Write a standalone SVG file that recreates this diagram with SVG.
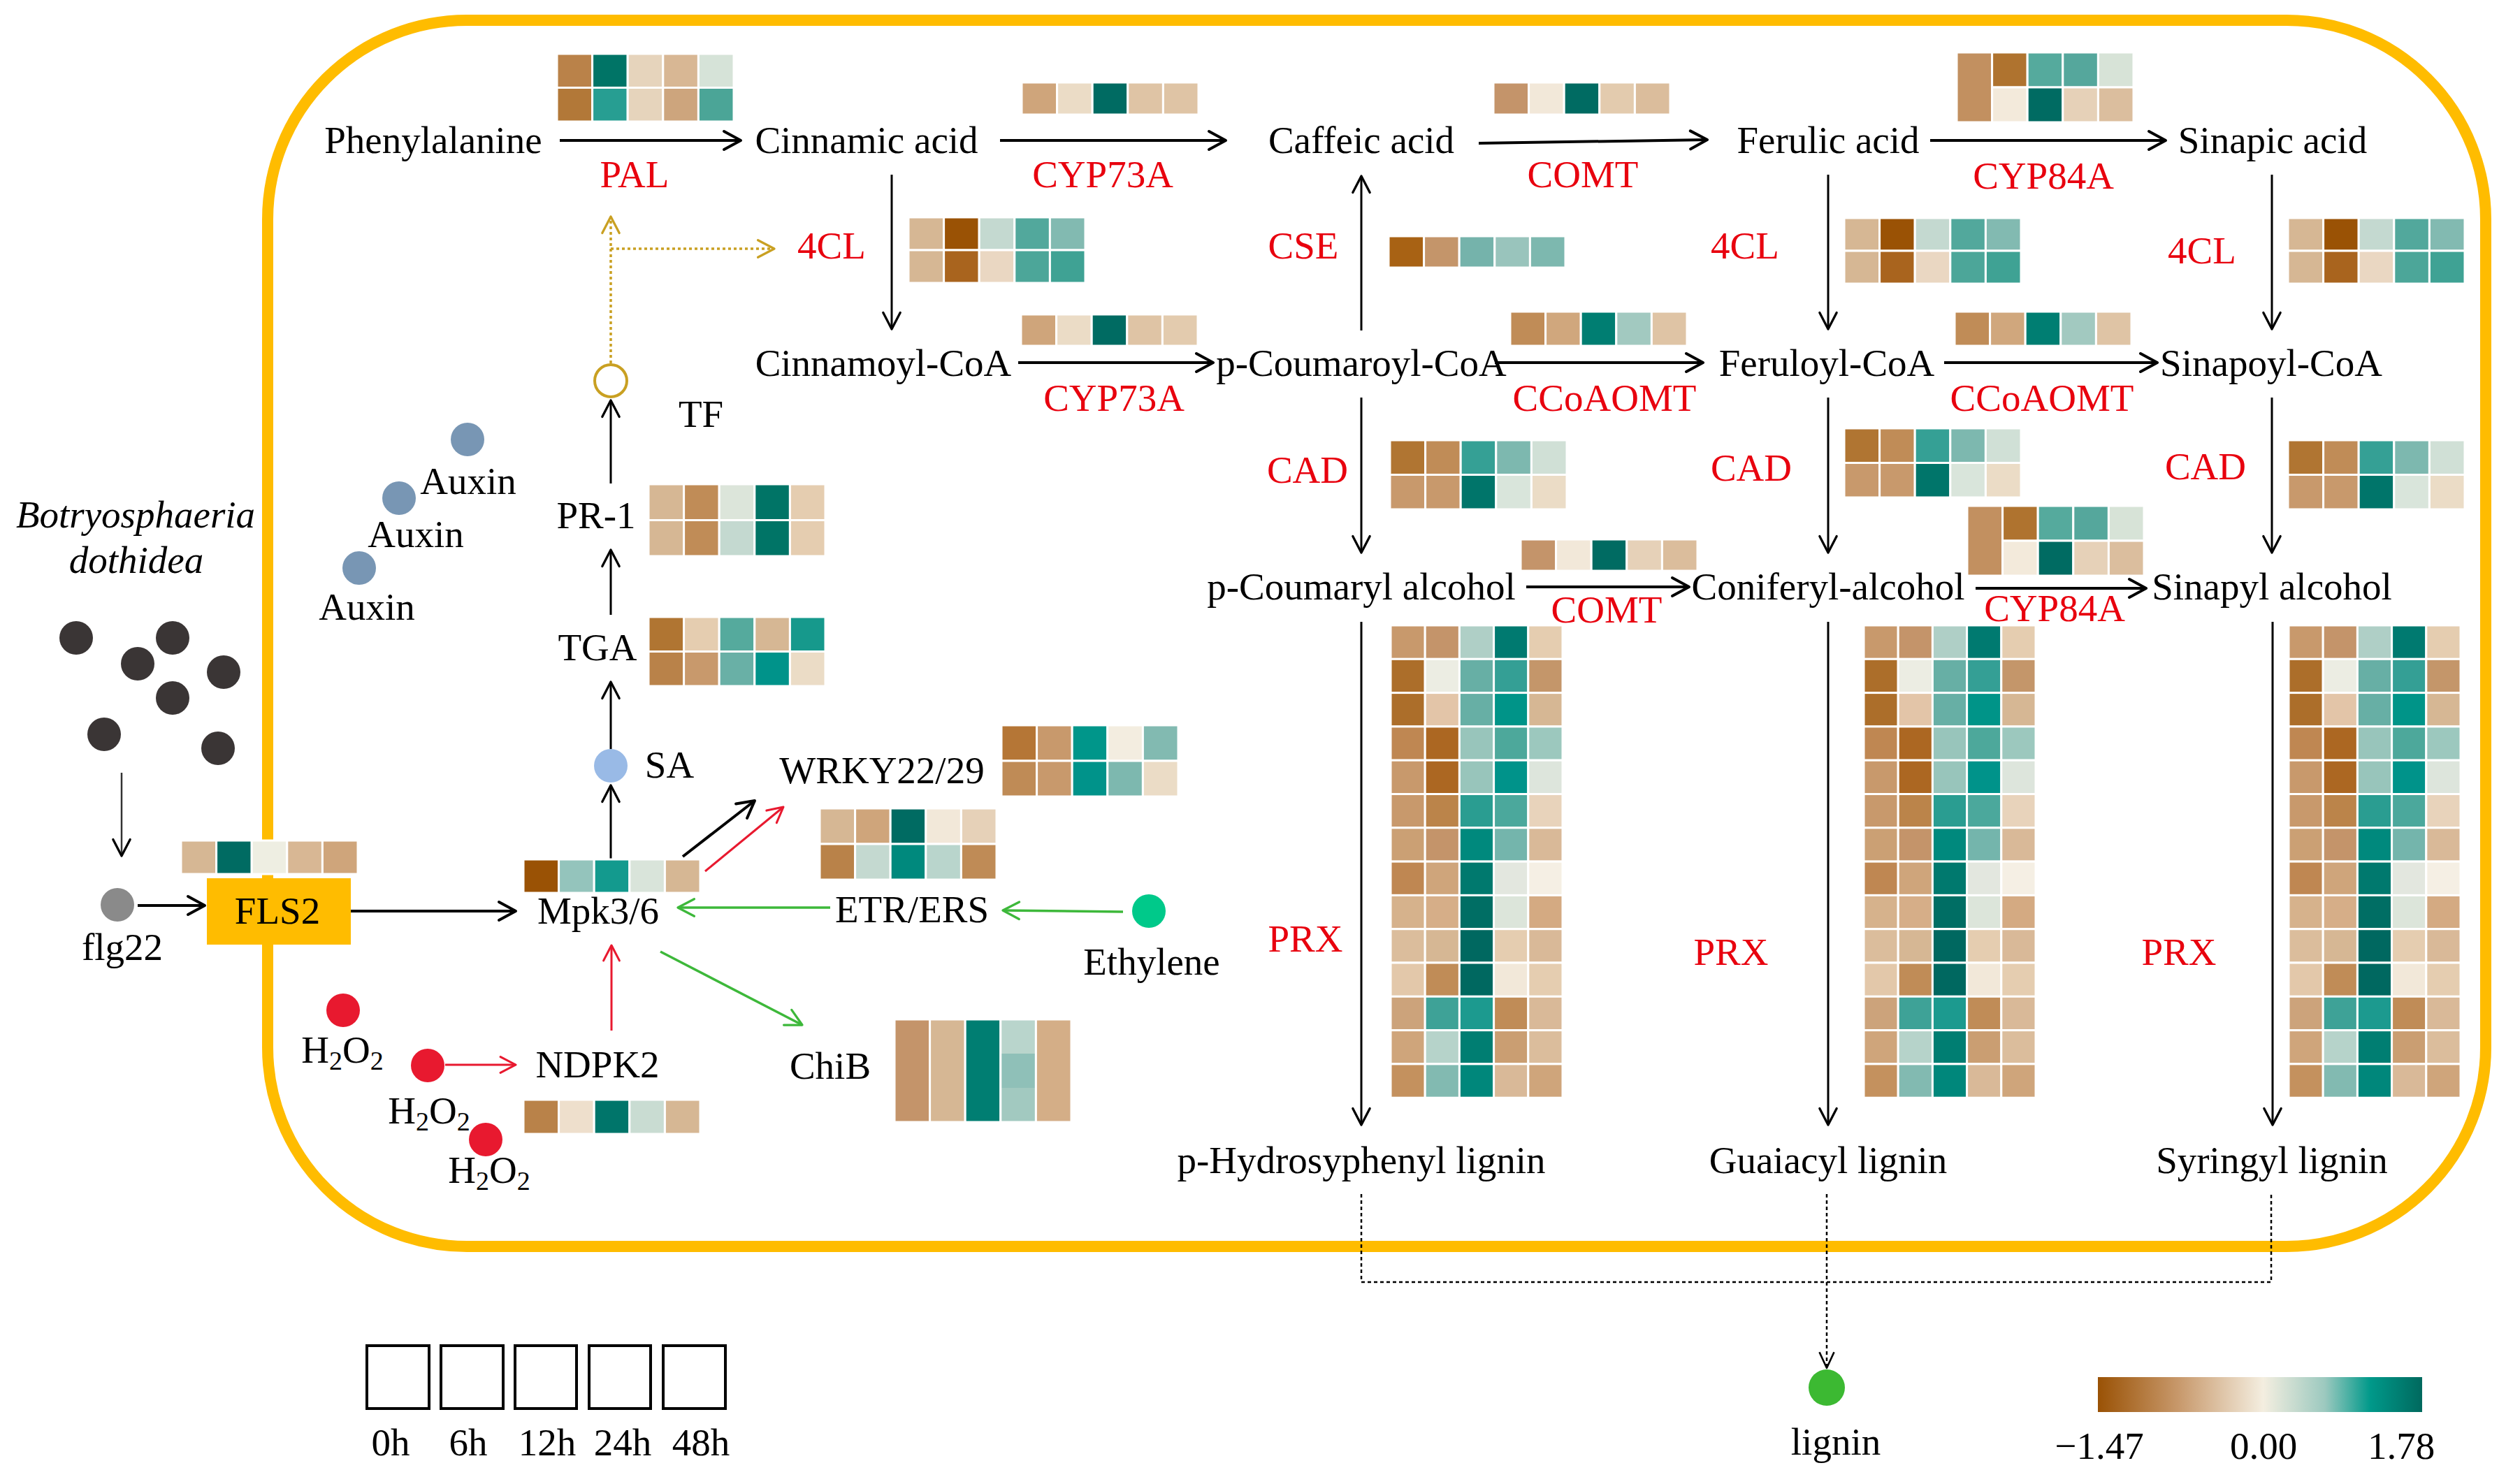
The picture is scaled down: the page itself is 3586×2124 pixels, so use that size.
<svg xmlns="http://www.w3.org/2000/svg" xmlns:xlink="http://www.w3.org/1999/xlink" width="3586" height="2124" viewBox="0 0 3586 2124">
<style>
.t{font-family:"Liberation Serif","Times New Roman",serif;font-size:55px;fill:#000;text-anchor:middle}
.r{fill:#E8000E}
.i{font-style:italic}
.hm rect{stroke:#fff;stroke-width:3}
.hm rect.ns{stroke:none}
.ln{stroke:#000;stroke-width:4;fill:none}
.lt{stroke:#000;stroke-width:3;fill:none}
.lr{stroke:#E8192F;stroke-width:3;fill:none}
.lg{stroke:#3DB83A;stroke-width:3.5;fill:none}
.ly{stroke:#C9A022;stroke-width:3.5;fill:none;stroke-dasharray:4 4}
.ld{stroke:#000;stroke-width:2.5;fill:none;stroke-dasharray:5 4}
.box{fill:none;stroke:#000;stroke-width:4}
</style>
<defs>
<marker id="mk" viewBox="0 0 32 32" refX="29" refY="16" markerWidth="32" markerHeight="32" markerUnits="userSpaceOnUse" orient="auto"><path d="M5,3 L29,16 L5,29" fill="none" stroke="#000" stroke-width="4" stroke-linecap="round" stroke-linejoin="round"/></marker>
<marker id="mkt" viewBox="0 0 32 32" refX="29" refY="16" markerWidth="30" markerHeight="30" markerUnits="userSpaceOnUse" orient="auto"><path d="M4,3 L29,16 L4,29" fill="none" stroke="#000" stroke-width="3.5" stroke-linecap="round" stroke-linejoin="round"/></marker>
<marker id="mkr" viewBox="0 0 32 32" refX="29" refY="16" markerWidth="28" markerHeight="28" markerUnits="userSpaceOnUse" orient="auto"><path d="M4,3 L29,16 L4,29" fill="none" stroke="#E8192F" stroke-width="3.5" stroke-linecap="round" stroke-linejoin="round"/></marker>
<marker id="mkg" viewBox="0 0 32 32" refX="29" refY="16" markerWidth="30" markerHeight="30" markerUnits="userSpaceOnUse" orient="auto"><path d="M4,3 L29,16 L4,29" fill="none" stroke="#3DB83A" stroke-width="3.5" stroke-linecap="round" stroke-linejoin="round"/></marker>
<marker id="mky" viewBox="0 0 32 32" refX="29" refY="16" markerWidth="30" markerHeight="30" markerUnits="userSpaceOnUse" orient="auto"><path d="M4,3 L29,16 L4,29" fill="none" stroke="#C9A022" stroke-width="3.5" stroke-linecap="round" stroke-linejoin="round"/></marker>
<marker id="mkd" viewBox="0 0 32 32" refX="29" refY="16" markerWidth="28" markerHeight="28" markerUnits="userSpaceOnUse" orient="auto"><path d="M3,4 L29,16 L3,28" fill="none" stroke="#000" stroke-width="3" stroke-linejoin="round"/></marker>
<linearGradient id="cb" x1="0" y1="0" x2="1" y2="0">
<stop offset="0" stop-color="#9A5205"/>
<stop offset="0.25" stop-color="#C8996C"/>
<stop offset="0.51" stop-color="#F4EEE0"/>
<stop offset="0.7" stop-color="#9CC9BF"/>
<stop offset="0.84" stop-color="#00998A"/>
<stop offset="1" stop-color="#00695E"/>
</linearGradient>
<g id="prx" class="hm">
<rect x="0" y="0" width="49.2" height="48.3" fill="#C8996C"/><rect x="49.2" y="0" width="49.2" height="48.3" fill="#C4946A"/><rect x="98.4" y="0" width="49.2" height="48.3" fill="#AFCFC6"/><rect x="147.6" y="0" width="49.2" height="48.3" fill="#007A70"/><rect x="196.8" y="0" width="49.2" height="48.3" fill="#E5CDB0"/>
<rect x="0" y="48.3" width="49.2" height="48.3" fill="#AC6E2A"/><rect x="49.2" y="48.3" width="49.2" height="48.3" fill="#ECEDE3"/><rect x="98.4" y="48.3" width="49.2" height="48.3" fill="#67AFA5"/><rect x="147.6" y="48.3" width="49.2" height="48.3" fill="#349F95"/><rect x="196.8" y="48.3" width="49.2" height="48.3" fill="#C4966A"/>
<rect x="0" y="96.6" width="49.2" height="48.3" fill="#AC6E2A"/><rect x="49.2" y="96.6" width="49.2" height="48.3" fill="#E3C5A8"/><rect x="98.4" y="96.6" width="49.2" height="48.3" fill="#67AFA5"/><rect x="147.6" y="96.6" width="49.2" height="48.3" fill="#009488"/><rect x="196.8" y="96.6" width="49.2" height="48.3" fill="#D6B794"/>
<rect x="0" y="144.9" width="49.2" height="48.3" fill="#BF8752"/><rect x="49.2" y="144.9" width="49.2" height="48.3" fill="#AC6722"/><rect x="98.4" y="144.9" width="49.2" height="48.3" fill="#98C5BB"/><rect x="147.6" y="144.9" width="49.2" height="48.3" fill="#4DA89B"/><rect x="196.8" y="144.9" width="49.2" height="48.3" fill="#9CC8BE"/>
<rect x="0" y="193.2" width="49.2" height="48.3" fill="#C8996C"/><rect x="49.2" y="193.2" width="49.2" height="48.3" fill="#AC6722"/><rect x="98.4" y="193.2" width="49.2" height="48.3" fill="#98C5BB"/><rect x="147.6" y="193.2" width="49.2" height="48.3" fill="#00938A"/><rect x="196.8" y="193.2" width="49.2" height="48.3" fill="#DDE5DC"/>
<rect x="0" y="241.5" width="49.2" height="48.3" fill="#C8996C"/><rect x="49.2" y="241.5" width="49.2" height="48.3" fill="#BB844A"/><rect x="98.4" y="241.5" width="49.2" height="48.3" fill="#2A9D91"/><rect x="147.6" y="241.5" width="49.2" height="48.3" fill="#4BA89C"/><rect x="196.8" y="241.5" width="49.2" height="48.3" fill="#E8D3BB"/>
<rect x="0" y="289.8" width="49.2" height="48.3" fill="#CBA074"/><rect x="49.2" y="289.8" width="49.2" height="48.3" fill="#C4946A"/><rect x="98.4" y="289.8" width="49.2" height="48.3" fill="#00897D"/><rect x="147.6" y="289.8" width="49.2" height="48.3" fill="#74B5AC"/><rect x="196.8" y="289.8" width="49.2" height="48.3" fill="#D9B998"/>
<rect x="0" y="338.1" width="49.2" height="48.3" fill="#BF8752"/><rect x="49.2" y="338.1" width="49.2" height="48.3" fill="#CFA57B"/><rect x="98.4" y="338.1" width="49.2" height="48.3" fill="#00796E"/><rect x="147.6" y="338.1" width="49.2" height="48.3" fill="#E3E7DF"/><rect x="196.8" y="338.1" width="49.2" height="48.3" fill="#F5EFE4"/>
<rect x="0" y="386.4" width="49.2" height="48.3" fill="#D6B28C"/><rect x="49.2" y="386.4" width="49.2" height="48.3" fill="#D6AE88"/><rect x="98.4" y="386.4" width="49.2" height="48.3" fill="#006E64"/><rect x="147.6" y="386.4" width="49.2" height="48.3" fill="#DCE5DA"/><rect x="196.8" y="386.4" width="49.2" height="48.3" fill="#D4AA82"/>
<rect x="0" y="434.7" width="49.2" height="48.3" fill="#DBBD9C"/><rect x="49.2" y="434.7" width="49.2" height="48.3" fill="#D6B794"/><rect x="98.4" y="434.7" width="49.2" height="48.3" fill="#006860"/><rect x="147.6" y="434.7" width="49.2" height="48.3" fill="#E5CDB0"/><rect x="196.8" y="434.7" width="49.2" height="48.3" fill="#D9B998"/>
<rect x="0" y="483" width="49.2" height="48.3" fill="#E3C8AA"/><rect x="49.2" y="483" width="49.2" height="48.3" fill="#C08C57"/><rect x="98.4" y="483" width="49.2" height="48.3" fill="#006860"/><rect x="147.6" y="483" width="49.2" height="48.3" fill="#F2E8D9"/><rect x="196.8" y="483" width="49.2" height="48.3" fill="#E5CDB0"/>
<rect x="0" y="531.3" width="49.2" height="48.3" fill="#CCA37B"/><rect x="49.2" y="531.3" width="49.2" height="48.3" fill="#3EA297"/><rect x="98.4" y="531.3" width="49.2" height="48.3" fill="#1C9A8F"/><rect x="147.6" y="531.3" width="49.2" height="48.3" fill="#C08C57"/><rect x="196.8" y="531.3" width="49.2" height="48.3" fill="#D9B998"/>
<rect x="0" y="579.6" width="49.2" height="48.3" fill="#CFA57B"/><rect x="49.2" y="579.6" width="49.2" height="48.3" fill="#B6D3CA"/><rect x="98.4" y="579.6" width="49.2" height="48.3" fill="#007E72"/><rect x="147.6" y="579.6" width="49.2" height="48.3" fill="#CA9E72"/><rect x="196.8" y="579.6" width="49.2" height="48.3" fill="#DBBD9C"/>
<rect x="0" y="627.9" width="49.2" height="48.3" fill="#C4915E"/><rect x="49.2" y="627.9" width="49.2" height="48.3" fill="#82BAB1"/><rect x="98.4" y="627.9" width="49.2" height="48.3" fill="#00877B"/><rect x="147.6" y="627.9" width="49.2" height="48.3" fill="#D9B998"/><rect x="196.8" y="627.9" width="49.2" height="48.3" fill="#CFA57B"/>
</g>
<g id="h4cl" class="hm">
<rect x="0" y="0" width="50.6" height="47" fill="#D6B794"/><rect x="50.6" y="0" width="50.6" height="47" fill="#9A5205"/><rect x="101.2" y="0" width="50.6" height="47" fill="#C4D9D0"/><rect x="151.8" y="0" width="50.6" height="47" fill="#52A89C"/><rect x="202.4" y="0" width="50.6" height="47" fill="#82BAB1"/>
<rect x="0" y="47" width="50.6" height="47" fill="#D6B794"/><rect x="50.6" y="47" width="50.6" height="47" fill="#A9641E"/><rect x="101.2" y="47" width="50.6" height="47" fill="#EAD7C2"/><rect x="151.8" y="47" width="50.6" height="47" fill="#4CA699"/><rect x="202.4" y="47" width="50.6" height="47" fill="#3FA294"/>
</g>
<g id="hcad" class="hm">
<rect x="0" y="0" width="50.6" height="49.5" fill="#B07532"/><rect x="50.6" y="0" width="50.6" height="49.5" fill="#C08C57"/><rect x="101.2" y="0" width="50.6" height="49.5" fill="#35A095"/><rect x="151.8" y="0" width="50.6" height="49.5" fill="#7DB8AF"/><rect x="202.4" y="0" width="50.6" height="49.5" fill="#D0E0D6"/>
<rect x="0" y="49.5" width="50.6" height="49.5" fill="#C8996C"/><rect x="50.6" y="49.5" width="50.6" height="49.5" fill="#C8996C"/><rect x="101.2" y="49.5" width="50.6" height="49.5" fill="#00756A"/><rect x="151.8" y="49.5" width="50.6" height="49.5" fill="#D9E5DB"/><rect x="202.4" y="49.5" width="50.6" height="49.5" fill="#EBDCC6"/>
</g>
<g id="hcyp84" class="hm">
<rect x="0" y="0" width="50.6" height="100" fill="#C29060"/>
<rect x="50.6" y="0" width="50.6" height="50" fill="#AF732F"/><rect x="101.2" y="0" width="50.6" height="50" fill="#55AA9D"/><rect x="151.8" y="0" width="50.6" height="50" fill="#55A79C"/><rect x="202.4" y="0" width="50.6" height="50" fill="#D7E3D7"/>
<rect x="50.6" y="50" width="50.6" height="50" fill="#F3EADB"/><rect x="101.2" y="50" width="50.6" height="50" fill="#006B62"/><rect x="151.8" y="50" width="50.6" height="50" fill="#E6D1B8"/><rect x="202.4" y="50" width="50.6" height="50" fill="#DBBE9E"/>
</g>
<g id="hccoa" class="hm">
<rect x="0" y="0" width="50.6" height="49" fill="#C08C57"/><rect x="50.6" y="0" width="50.6" height="49" fill="#D0A77D"/><rect x="101.2" y="0" width="50.6" height="49" fill="#007E72"/><rect x="151.8" y="0" width="50.6" height="49" fill="#A2C9C0"/><rect x="202.4" y="0" width="50.6" height="49" fill="#DFC4A5"/>
</g>
</defs>

<rect id="cell" x="383" y="29" width="3174" height="1755" rx="285" ry="285" fill="none" stroke="#FFBC00" stroke-width="16"/>

<g id="connectors">
<line class="ln" x1="801" y1="201" x2="1060" y2="201" marker-end="url(#mk)"/>
<line class="ln" x1="1431" y1="201" x2="1754" y2="201" marker-end="url(#mk)"/>
<line class="ln" x1="2116" y1="205" x2="2443" y2="200" marker-end="url(#mk)"/>
<line class="ln" x1="2762" y1="201" x2="3099" y2="201" marker-end="url(#mk)"/>
<line class="ln" x1="1457" y1="519" x2="1736" y2="519" marker-end="url(#mk)"/>
<line class="ln" x1="2139" y1="519" x2="2437" y2="519" marker-end="url(#mk)"/>
<line class="ln" x1="2782" y1="519" x2="3087" y2="519" marker-end="url(#mk)"/>
<line class="ln" x1="2184" y1="840" x2="2417" y2="840" marker-end="url(#mk)"/>
<line class="ln" x1="2827" y1="842" x2="3071" y2="842" marker-end="url(#mk)"/>
<line class="lt" x1="1276" y1="250" x2="1276" y2="471" marker-end="url(#mkt)"/>
<line class="lt" x1="1948" y1="473" x2="1948" y2="252" marker-end="url(#mkt)"/>
<line class="lt" x1="2616" y1="250" x2="2616" y2="471" marker-end="url(#mkt)"/>
<line class="lt" x1="3251" y1="250" x2="3251" y2="471" marker-end="url(#mkt)"/>
<line class="lt" x1="1948" y1="569" x2="1948" y2="791" marker-end="url(#mkt)"/>
<line class="lt" x1="2616" y1="569" x2="2616" y2="791" marker-end="url(#mkt)"/>
<line class="lt" x1="3251" y1="569" x2="3251" y2="791" marker-end="url(#mkt)"/>
<line class="lt" x1="1948" y1="890" x2="1948" y2="1610" marker-end="url(#mkt)"/>
<line class="lt" x1="2616" y1="890" x2="2616" y2="1610" marker-end="url(#mkt)"/>
<line class="lt" x1="3252" y1="890" x2="3252" y2="1610" marker-end="url(#mkt)"/>
<path class="ld" d="M1948,1709 V1835 H3250 V1709"/>
<line class="ld" x1="2614" y1="1709" x2="2614" y2="1958" marker-end="url(#mkd)"/>
<line class="ly" x1="874" y1="520" x2="874" y2="310" marker-end="url(#mky)"/>
<line class="ly" x1="874" y1="356" x2="1108" y2="356" marker-end="url(#mky)"/>
<line class="lt" x1="874" y1="692" x2="874" y2="573" marker-end="url(#mkt)"/>
<line class="lt" x1="874" y1="880" x2="874" y2="787" marker-end="url(#mkt)"/>
<line class="lt" x1="874" y1="1072" x2="874" y2="976" marker-end="url(#mkt)"/>
<line class="lt" x1="874" y1="1230" x2="874" y2="1124" marker-end="url(#mkt)"/>
<line x1="174" y1="1106" x2="174" y2="1225" stroke="#333" stroke-width="2.5" marker-end="url(#mkt)"/>
<line class="ln" x1="197" y1="1296" x2="293" y2="1296" marker-end="url(#mk)"/>
<line class="ln" x1="502" y1="1304" x2="738" y2="1304" marker-end="url(#mk)"/>
<line class="ln" x1="977" y1="1226" x2="1080" y2="1146" marker-end="url(#mk)"/>
<line class="lr" x1="1009" y1="1247" x2="1121" y2="1155" marker-end="url(#mkr)"/>
<line class="lg" x1="1188" y1="1299" x2="970" y2="1299" marker-end="url(#mkg)"/>
<line class="lg" x1="1607" y1="1305" x2="1435" y2="1303" marker-end="url(#mkg)"/>
<line class="lg" x1="945" y1="1362" x2="1148" y2="1467" marker-end="url(#mkg)"/>
<line class="lr" x1="875" y1="1475" x2="875" y2="1353" marker-end="url(#mkr)"/>
<line class="lr" x1="637" y1="1524" x2="738" y2="1524" stroke-width="4" marker-end="url(#mkr)"/>
</g>

<g id="heatmaps">
<g id="hm-pal" class="hm" transform="translate(797,77)">
<rect x="0" y="0" width="50.6" height="48.5" fill="#BA8249"/><rect x="50.6" y="0" width="50.6" height="48.5" fill="#007466"/><rect x="101.2" y="0" width="50.6" height="48.5" fill="#E6D4BC"/><rect x="151.8" y="0" width="50.6" height="48.5" fill="#D8B794"/><rect x="202.4" y="0" width="50.6" height="48.5" fill="#D6E3D8"/>
<rect x="0" y="48.5" width="50.6" height="48.5" fill="#B27838"/><rect x="50.6" y="48.5" width="50.6" height="48.5" fill="#279E92"/><rect x="101.2" y="48.5" width="50.6" height="48.5" fill="#E6D4BC"/><rect x="151.8" y="48.5" width="50.6" height="48.5" fill="#CDA57D"/><rect x="202.4" y="48.5" width="50.6" height="48.5" fill="#4BA597"/>
</g>
<g id="hm-cyp73a-1" class="hm" transform="translate(1462,118)">
<rect x="0" y="0" width="50.6" height="46" fill="#CFA57B"/><rect x="50.6" y="0" width="50.6" height="46" fill="#EBDCC6"/><rect x="101.2" y="0" width="50.6" height="46" fill="#006B62"/><rect x="151.8" y="0" width="50.6" height="46" fill="#DFC4A5"/><rect x="202.4" y="0" width="50.6" height="46" fill="#DFC4A5"/>
</g>
<g id="hm-comt-1" class="hm" transform="translate(2137,118)">
<rect x="0" y="0" width="50.6" height="46" fill="#C4946A"/><rect x="50.6" y="0" width="50.6" height="46" fill="#F2E8D9"/><rect x="101.2" y="0" width="50.6" height="46" fill="#006B62"/><rect x="151.8" y="0" width="50.6" height="46" fill="#E3CBAE"/><rect x="202.4" y="0" width="50.6" height="46" fill="#DBBD9C"/>
</g>
<use id="hm-cyp84a-1" xlink:href="#hcyp84" href="#hcyp84" transform="translate(2800,75)"/>
<use id="hm-4cl-1" xlink:href="#h4cl" href="#h4cl" transform="translate(1300,311)"/>
<use id="hm-4cl-2" xlink:href="#h4cl" href="#h4cl" transform="translate(2639,312)"/>
<use id="hm-4cl-3" xlink:href="#h4cl" href="#h4cl" transform="translate(3274,312)"/>
<g id="hm-cse" class="hm" transform="translate(1987,338)">
<rect x="0" y="0" width="50.6" height="45" fill="#A86214"/><rect x="50.6" y="0" width="50.6" height="45" fill="#C4956A"/><rect x="101.2" y="0" width="50.6" height="45" fill="#75B3AB"/><rect x="151.8" y="0" width="50.6" height="45" fill="#99C4BC"/><rect x="202.4" y="0" width="50.6" height="45" fill="#7DB8AF"/>
</g>
<g id="hm-cyp73a-2" class="hm" transform="translate(1461,450)">
<rect x="0" y="0" width="50.6" height="45" fill="#CFA57B"/><rect x="50.6" y="0" width="50.6" height="45" fill="#EBDCC6"/><rect x="101.2" y="0" width="50.6" height="45" fill="#006B62"/><rect x="151.8" y="0" width="50.6" height="45" fill="#DFC4A5"/><rect x="202.4" y="0" width="50.6" height="45" fill="#E3CBAE"/>
</g>
<use id="hm-ccoaomt-1" xlink:href="#hccoa" href="#hccoa" transform="translate(2161,446)"/>
<use id="hm-ccoaomt-2" xlink:href="#hccoa" href="#hccoa" transform="translate(2797,446)"/>
<use id="hm-cad-1" xlink:href="#hcad" href="#hcad" transform="translate(1989,630)"/>
<use id="hm-cad-2" xlink:href="#hcad" href="#hcad" transform="translate(2639,613)"/>
<use id="hm-cad-3" xlink:href="#hcad" href="#hcad" transform="translate(3274,630)"/>
<g id="hm-comt-2" class="hm" transform="translate(2176,772)">
<rect x="0" y="0" width="50.6" height="45" fill="#C4946A"/><rect x="50.6" y="0" width="50.6" height="45" fill="#F2E8D9"/><rect x="101.2" y="0" width="50.6" height="45" fill="#006B62"/><rect x="151.8" y="0" width="50.6" height="45" fill="#E6D1B8"/><rect x="202.4" y="0" width="50.6" height="45" fill="#DBBD9C"/>
</g>
<use id="hm-cyp84a-2" xlink:href="#hcyp84" href="#hcyp84" transform="translate(2815,724)"/>
<use id="hm-prx-1" xlink:href="#prx" href="#prx" transform="translate(1990,895)"/>
<use id="hm-prx-2" xlink:href="#prx" href="#prx" transform="translate(2667,895)"/>
<use id="hm-prx-3" xlink:href="#prx" href="#prx" transform="translate(3275,895)"/>
<g id="hm-pr1" class="hm" transform="translate(928,693)">
<rect x="0" y="0" width="50.6" height="51.5" fill="#D6B794"/><rect x="50.6" y="0" width="50.6" height="51.5" fill="#C08C57"/><rect x="101.2" y="0" width="50.6" height="51.5" fill="#DCE5DA"/><rect x="151.8" y="0" width="50.6" height="51.5" fill="#007466"/><rect x="202.4" y="0" width="50.6" height="51.5" fill="#E5CDB0"/>
<rect x="0" y="51.5" width="50.6" height="51.5" fill="#D6B794"/><rect x="50.6" y="51.5" width="50.6" height="51.5" fill="#C08C57"/><rect x="101.2" y="51.5" width="50.6" height="51.5" fill="#C4D9D0"/><rect x="151.8" y="51.5" width="50.6" height="51.5" fill="#007466"/><rect x="202.4" y="51.5" width="50.6" height="51.5" fill="#E5CDB0"/>
</g>
<g id="hm-tga" class="hm" transform="translate(928,883)">
<rect x="0" y="0" width="50.6" height="49.5" fill="#B07532"/><rect x="50.6" y="0" width="50.6" height="49.5" fill="#E5CDB0"/><rect x="101.2" y="0" width="50.6" height="49.5" fill="#55AA9D"/><rect x="151.8" y="0" width="50.6" height="49.5" fill="#D6B794"/><rect x="202.4" y="0" width="50.6" height="49.5" fill="#16998C"/>
<rect x="0" y="49.5" width="50.6" height="49.5" fill="#B98249"/><rect x="50.6" y="49.5" width="50.6" height="49.5" fill="#C8996C"/><rect x="101.2" y="49.5" width="50.6" height="49.5" fill="#69B0A6"/><rect x="151.8" y="49.5" width="50.6" height="49.5" fill="#00938A"/><rect x="202.4" y="49.5" width="50.6" height="49.5" fill="#EBDCC6"/>
</g>
<g id="hm-wrky" class="hm" transform="translate(1433,1038)">
<rect x="0" y="0" width="50.6" height="51" fill="#B57636"/><rect x="50.6" y="0" width="50.6" height="51" fill="#C8996C"/><rect x="101.2" y="0" width="50.6" height="51" fill="#00968A"/><rect x="151.8" y="0" width="50.6" height="51" fill="#F3EDE0"/><rect x="202.4" y="0" width="50.6" height="51" fill="#82BAB1"/>
<rect x="0" y="51" width="50.6" height="51" fill="#BF8B56"/><rect x="50.6" y="51" width="50.6" height="51" fill="#C8996C"/><rect x="101.2" y="51" width="50.6" height="51" fill="#00938A"/><rect x="151.8" y="51" width="50.6" height="51" fill="#7DB8AF"/><rect x="202.4" y="51" width="50.6" height="51" fill="#EBDCC6"/>
</g>
<g id="hm-wrky-2" class="hm" transform="translate(1173,1157)">
<rect x="0" y="0" width="50.6" height="51" fill="#D6B794"/><rect x="50.6" y="0" width="50.6" height="51" fill="#CFA57B"/><rect x="101.2" y="0" width="50.6" height="51" fill="#006B62"/><rect x="151.8" y="0" width="50.6" height="51" fill="#F2E8D9"/><rect x="202.4" y="0" width="50.6" height="51" fill="#E6D1B8"/>
<rect x="0" y="51" width="50.6" height="51" fill="#B98249"/><rect x="50.6" y="51" width="50.6" height="51" fill="#C4D9D0"/><rect x="101.2" y="51" width="50.6" height="51" fill="#00897D"/><rect x="151.8" y="51" width="50.6" height="51" fill="#B9D5CC"/><rect x="202.4" y="51" width="50.6" height="51" fill="#BF8B56"/>
</g>
<g id="hm-fls2" class="hm" transform="translate(259,1203)">
<rect x="0" y="0" width="50.6" height="48" fill="#D6B794"/><rect x="50.6" y="0" width="50.6" height="48" fill="#006B62"/><rect x="101.2" y="0" width="50.6" height="48" fill="#EEEEE2"/><rect x="151.8" y="0" width="50.6" height="48" fill="#D8B794"/><rect x="202.4" y="0" width="50.6" height="48" fill="#CFA57B"/>
</g>
<g id="hm-mpk" class="hm" transform="translate(749,1230)">
<rect x="0" y="0" width="50.6" height="48" fill="#9A5205"/><rect x="50.6" y="0" width="50.6" height="48" fill="#94C4BC"/><rect x="101.2" y="0" width="50.6" height="48" fill="#139A8E"/><rect x="151.8" y="0" width="50.6" height="48" fill="#D9E4DA"/><rect x="202.4" y="0" width="50.6" height="48" fill="#D6B794"/>
</g>
<g id="hm-chib" class="hm" transform="translate(1280,1459)">
<rect x="0" y="0" width="50.6" height="147" fill="#C4946A"/><rect x="50.6" y="0" width="50.6" height="147" fill="#D6B794"/><rect x="101.2" y="0" width="50.6" height="147" fill="#007E72"/>
<rect class="ns" x="151.8" y="0" width="50.6" height="49" fill="#B9D5CC"/><rect class="ns" x="151.8" y="49" width="50.6" height="49" fill="#8FC0B8"/><rect class="ns" x="151.8" y="98" width="50.6" height="49" fill="#A2C9C0"/>
<rect x="151.8" y="0" width="50.6" height="147" fill="none"/>
<rect x="202.4" y="0" width="50.6" height="147" fill="#D4AE87"/>
</g>
<g id="hm-ndpk2" class="hm" transform="translate(749,1574)">
<rect x="0" y="0" width="50.6" height="49" fill="#B98249"/><rect x="50.6" y="0" width="50.6" height="49" fill="#EEDFCC"/><rect x="101.2" y="0" width="50.6" height="49" fill="#00756A"/><rect x="151.8" y="0" width="50.6" height="49" fill="#C9DCD2"/><rect x="202.4" y="0" width="50.6" height="49" fill="#D6B794"/>
</g>
</g>

<g id="n-phenylalanine"><text class="t" x="620" y="219">Phenylalanine</text></g>
<g id="n-cinnamic"><text class="t" x="1240" y="219">Cinnamic acid</text></g>
<g id="n-caffeic"><text class="t" x="1948" y="219">Caffeic acid</text></g>
<g id="n-ferulic"><text class="t" x="2616" y="219">Ferulic acid</text></g>
<g id="n-sinapic"><text class="t" x="3252" y="219">Sinapic acid</text></g>
<g id="n-cinnamoyl"><text class="t" x="1264" y="538">Cinnamoyl-CoA</text></g>
<g id="n-pcoumaroyl"><text class="t" x="1948" y="538">p-Coumaroyl-CoA</text></g>
<g id="n-feruloyl"><text class="t" x="2614" y="538">Feruloyl-CoA</text></g>
<g id="n-sinapoyl"><text class="t" x="3250" y="538">Sinapoyl-CoA</text></g>
<g id="n-pcoumaryl"><text class="t" x="1948" y="858">p-Coumaryl alcohol</text></g>
<g id="n-coniferyl"><text class="t" x="2616" y="858">Coniferyl-alcohol</text></g>
<g id="n-sinapyl"><text class="t" x="3251" y="858">Sinapyl alcohol</text></g>
<g id="n-hlignin"><text class="t" x="1948" y="1679">p-Hydrosyphenyl lignin</text></g>
<g id="n-glignin"><text class="t" x="2616" y="1679">Guaiacyl lignin</text></g>
<g id="n-slignin"><text class="t" x="3251" y="1679">Syringyl lignin</text></g>

<g id="enzymes">
<text class="t r" x="908" y="268">PAL</text>
<text class="t r" x="1578" y="268">CYP73A</text>
<text class="t r" x="2265" y="268">COMT</text>
<text class="t r" x="2924" y="270">CYP84A</text>
<text class="t r" x="1190" y="370">4CL</text>
<text class="t r" x="1865" y="370">CSE</text>
<text class="t r" x="2497" y="370">4CL</text>
<text class="t r" x="3151" y="377">4CL</text>
<text class="t r" x="1594" y="588">CYP73A</text>
<text class="t r" x="2296" y="588">CCoAOMT</text>
<text class="t r" x="2922" y="588">CCoAOMT</text>
<text class="t r" x="1871" y="691">CAD</text>
<text class="t r" x="2506" y="688">CAD</text>
<text class="t r" x="3156" y="686">CAD</text>
<text class="t r" x="2299" y="891">COMT</text>
<text class="t r" x="2940" y="889">CYP84A</text>
<text class="t r" x="1868" y="1362">PRX</text>
<text class="t r" x="2477" y="1381">PRX</text>
<text class="t r" x="3118" y="1381">PRX</text>
</g>

<g id="n-pathogen">
<text class="t i" x="194" y="755">Botryosphaeria</text>
<text class="t i" x="195" y="820">dothidea</text>
<g fill="#3A3535">
<circle cx="109" cy="913" r="24"/><circle cx="247" cy="913" r="24"/><circle cx="197" cy="950" r="24"/><circle cx="320" cy="962" r="24"/><circle cx="247" cy="999" r="24"/><circle cx="149" cy="1051" r="24"/><circle cx="312" cy="1071" r="24"/>
</g>
</g>
<g id="n-flg22"><circle cx="168" cy="1295" r="24" fill="#8A8A8A"/><text class="t" x="175" y="1374">flg22</text></g>
<g id="n-fls2"><rect x="296" y="1257" width="206" height="95" fill="#FFBC00"/><text class="t" x="397" y="1322" font-size="56">FLS2</text></g>
<g id="n-mpk"><text class="t" x="856" y="1322">Mpk3/6</text></g>
<g id="n-sa"><circle cx="874" cy="1096" r="24" fill="#99BAE6"/><text class="t" x="958" y="1113">SA</text></g>
<g id="n-tga"><text class="t" x="855" y="945">TGA</text></g>
<g id="n-pr1"><text class="t" x="853" y="756">PR-1</text></g>
<g id="n-tf"><circle cx="874" cy="545" r="23" fill="#fff" stroke="#C9A022" stroke-width="4"/><text class="t" x="1003" y="611">TF</text></g>
<g id="n-auxin">
<circle cx="669" cy="629" r="24" fill="#7896B4"/><circle cx="571" cy="713" r="24" fill="#7896B4"/><circle cx="514" cy="813" r="24" fill="#7896B4"/>
<text class="t" x="670" y="707">Auxin</text>
<text class="t" x="595" y="783">Auxin</text>
<text class="t" x="525" y="887">Auxin</text>
</g>
<g id="n-wrky"><text class="t" x="1262" y="1121">WRKY22/29</text></g>
<g id="n-etr"><text class="t" x="1305" y="1320">ETR/ERS</text></g>
<g id="n-ethylene"><circle cx="1644" cy="1304" r="24" fill="#00C98A"/><text class="t" x="1648" y="1395">Ethylene</text></g>
<g id="n-chib"><text class="t" x="1188" y="1544">ChiB</text></g>
<g id="n-ndpk2"><text class="t" x="855" y="1542">NDPK2</text></g>
<g id="n-h2o2">
<circle cx="491" cy="1446" r="24" fill="#E8192F"/><circle cx="612" cy="1525" r="24" fill="#E8192F"/><circle cx="695" cy="1631" r="24" fill="#E8192F"/>
<text class="t" x="490" y="1521">H<tspan font-size="38" dy="10">2</tspan><tspan dy="-10">O</tspan><tspan font-size="38" dy="10">2</tspan></text>
<text class="t" x="614" y="1608">H<tspan font-size="38" dy="10">2</tspan><tspan dy="-10">O</tspan><tspan font-size="38" dy="10">2</tspan></text>
<text class="t" x="700" y="1693">H<tspan font-size="38" dy="10">2</tspan><tspan dy="-10">O</tspan><tspan font-size="38" dy="10">2</tspan></text>
</g>
<g id="n-lignin"><circle cx="2614" cy="1986" r="26" fill="#3CB932"/><text class="t" x="2627" y="2082">lignin</text></g>

<g id="legend-time">
<rect class="box" x="525" y="1926" width="89" height="90"/>
<rect class="box" x="631" y="1926" width="89" height="90"/>
<rect class="box" x="737" y="1926" width="88" height="90"/>
<rect class="box" x="843" y="1926" width="88" height="90"/>
<rect class="box" x="949" y="1926" width="89" height="90"/>
<text class="t" x="559" y="2083" font-size="52">0h</text>
<text class="t" x="670" y="2083" font-size="52">6h</text>
<text class="t" x="783" y="2083" font-size="52">12h</text>
<text class="t" x="891" y="2083" font-size="52">24h</text>
<text class="t" x="1003" y="2083" font-size="52">48h</text>
</g>
<g id="legend-scale">
<rect x="3002" y="1971" width="464" height="50" fill="url(#cb)"/>
<text class="t" x="3004" y="2088">−1.47</text>
<text class="t" x="3239" y="2088">0.00</text>
<text class="t" x="3436" y="2088">1.78</text>
</g>
</svg>
